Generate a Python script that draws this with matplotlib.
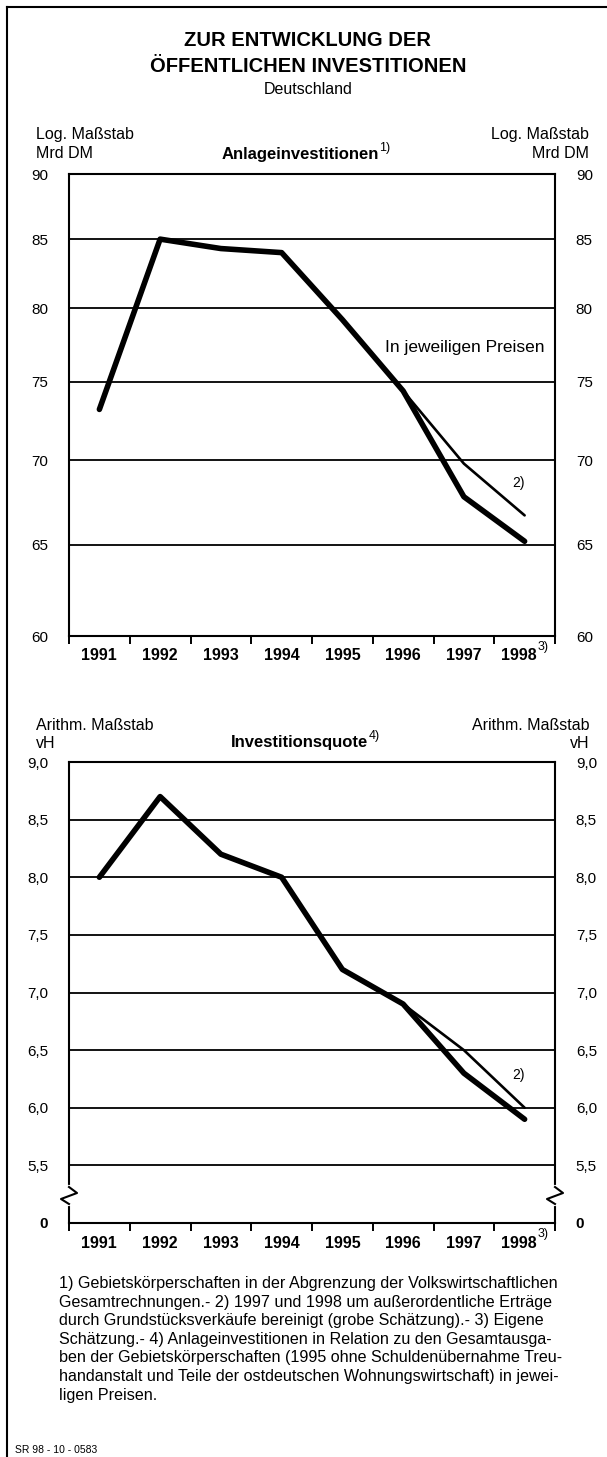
import matplotlib
matplotlib.use("Agg")
import matplotlib.pyplot as plt
from matplotlib.lines import Line2D
from matplotlib.ticker import NullLocator, FixedLocator
from matplotlib.transforms import ScaledTranslation

plt.rcParams['font.family'] = ['Liberation Sans', 'DejaVu Sans']

# ---------------- data ----------------
years = ["1991", "1992", "1993", "1994", "1995", "1996", "1997", "1998"]
invest = [73.2, 85.0, 84.3, 84.0, 79.2, 74.4, 67.8, 65.2]          # Mrd DM, thick
invest_adj_years = ["1996", "1997", "1998"]
invest_adj = [74.4, 69.8, 66.7]                                      # adjusted 2)
quote = [8.0, 8.7, 8.2, 8.0, 7.2, 6.9, 6.3, 5.9]                    # vH, thick
quote_adj_years = ["1996", "1997", "1998"]
quote_adj = [6.9, 6.5, 6.0]                                          # adjusted 2)
top_ticks = [60, 65, 70, 75, 80, 85, 90]
top_ticklabels = ["60", "65", "70", "75", "80", "85", "90"]
bot_ticks = [5.0, 5.5, 6.0, 6.5, 7.0, 7.5, 8.0, 8.5, 9.0]
bot_ticklabels = ["0", "5,5", "6,0", "6,5", "7,0", "7,5", "8,0", "8,5", "9,0"]

W, H = 607, 1457
fig = plt.figure(figsize=(W / 100, H / 100), dpi=100)


def fx(x):
    return x / W


def fy(y):
    return 1 - y / H


def ax_rect(left, top, right, bottom):
    return [fx(left), fy(bottom), (right - left) / W, (bottom - top) / H]


def style_axes(ax, ticks, ticklabels):
    n = len(years)
    xs = list(range(n))
    ax.set_xlim(-0.5, n - 0.5)
    ax.set_xticks(xs)
    ax.set_xticklabels(years, fontsize=11.5, fontweight='bold')
    ax.xaxis.set_minor_locator(FixedLocator([i - 0.5 for i in range(n + 1)]))
    ax.tick_params(axis='x', which='major', length=0, pad=9)
    ax.tick_params(axis='x', which='minor', length=6, width=1.4, direction='out')
    ax.set_yticks(ticks)
    ax.set_yticklabels(ticklabels)
    ax.yaxis.set_minor_locator(NullLocator())
    ax.tick_params(axis='y', which='both', left=False, right=False,
                   labelleft=True, labelright=True, labelsize=11, pad=11.5)
    for s in ax.spines.values():
        s.set_linewidth(1.5)
        s.set_color('black')
    for t in ticks[1:-1]:
        ax.axhline(t, color='black', lw=1.3, zorder=1)
    # shift last year label left to make room for the "3)" superscript
    last = ax.get_xticklabels()[-1]
    last.set_transform(last.get_transform() +
                       ScaledTranslation(-6 / 100, 0, fig.dpi_scale_trans))


# ---------------- top chart ----------------
ax1 = fig.add_axes(ax_rect(69, 174, 555, 636))
ax1.set_yscale('log')
ax1.set_ylim(60, 90)
style_axes(ax1, top_ticks, top_ticklabels)
xi = list(range(len(years)))
ax1.plot(xi, invest, color='black', lw=4.0, solid_capstyle='round', zorder=3)
ax1.plot([years.index(y) for y in invest_adj_years], invest_adj, color='black',
         lw=1.9, solid_capstyle='round', zorder=3)
ax1.text(7.33, 77.3, "In jeweiligen Preisen", ha='right', va='center', fontsize=12.5)
ax1.text(6.9, 68.6, "2)", ha='center', va='center', fontsize=10)

# ---------------- bottom chart ----------------
ax2 = fig.add_axes(ax_rect(69, 762, 555, 1223))
ax2.set_ylim(5.0, 9.0)
style_axes(ax2, bot_ticks, bot_ticklabels)
for lab in ax2.get_yticklabels():
    if lab.get_text() == "0":
        lab.set_fontweight('bold')
ax2.plot(xi, quote, color='black', lw=4.0, solid_capstyle='round', zorder=3)
ax2.plot([years.index(y) for y in quote_adj_years], quote_adj, color='black',
         lw=1.9, solid_capstyle='round', zorder=3)
ax2.text(6.9, 6.28, "2)", ha='center', va='center', fontsize=10)

# axis break zigzags
for x0 in (69, 555):
    fig.add_artist(Line2D([fx(x0), fx(x0)], [fy(1187), fy(1204)], color='white',
                          lw=3, zorder=10))
    fig.add_artist(Line2D([fx(x0), fx(x0 + 8), fx(x0 - 8), fx(x0)],
                          [fy(1187), fy(1193), fy(1199), fy(1204)],
                          color='black', lw=1.5, zorder=11))

# ---------------- texts ----------------
def ftext(x, y, s, **kw):
    return fig.text(fx(x), fy(y), s, **kw)


ftext(308, 41, "ZUR ENTWICKLUNG DER", ha='center', va='center', fontsize=14.5,
      fontweight='bold')
ftext(308, 66, "ÖFFENTLICHEN INVESTITIONEN", ha='center', va='center', fontsize=14.5,
      fontweight='bold')
ftext(308, 89, "Deutschland", ha='center', va='center', fontsize=11.5)

# top header
ftext(36, 135, "Log. Maßstab", ha='left', va='center', fontsize=11.5)
ftext(36, 154, "Mrd DM", ha='left', va='center', fontsize=11.5)
ftext(589, 135, "Log. Maßstab", ha='right', va='center', fontsize=11.5)
ftext(589, 154, "Mrd DM", ha='right', va='center', fontsize=11.5)
t1 = ftext(300, 155, "Anlageinvestitionen", ha='center', va='center', fontsize=12,
           fontweight='bold')
ax1.annotate("1)", xy=(1.0, 0.55), xycoords=t1, ha='left', va='bottom', fontsize=9)

# bottom header
ftext(36, 725, "Arithm. Maßstab", ha='left', va='center', fontsize=11.5)
ftext(36, 743, "vH", ha='left', va='center', fontsize=11.5)
ftext(589, 725, "Arithm. Maßstab", ha='right', va='center', fontsize=11.5)
ftext(589, 743, "vH", ha='right', va='center', fontsize=11.5)
t2 = ftext(300, 743, "Investitionsquote", ha='center', va='center', fontsize=12,
           fontweight='bold')
ax2.annotate("4)", xy=(1.0, 0.55), xycoords=t2, ha='left', va='bottom', fontsize=9)

# 3) superscripts next to 1998
ftext(538, 647, "3)", ha='left', va='center', fontsize=9)
ftext(538, 1234, "3)", ha='left', va='center', fontsize=9)

footnote = ("1) Gebietskörperschaften in der Abgrenzung der Volkswirtschaftlichen\n"
            "Gesamtrechnungen.- 2) 1997 und 1998 um außerordentliche Erträge\n"
            "durch Grundstücksverkäufe bereinigt (grobe Schätzung).- 3) Eigene\n"
            "Schätzung.- 4) Anlageinvestitionen in Relation zu den Gesamtausga-\n"
            "ben der Gebietskörperschaften (1995 ohne Schuldenübernahme Treu-\n"
            "handanstalt und Teile der ostdeutschen Wohnungswirtschaft) in jewei-\n"
            "ligen Preisen.")
ftext(59, 1276, footnote, ha='left', va='top', fontsize=11.6, linespacing=1.3)
ftext(15, 1450, "SR 98 - 10 - 0583", ha='left', va='center', fontsize=7.5)

# frame (top and left)
fig.add_artist(Line2D([fx(7), fx(7)], [fy(7), fy(1457)], color='black', lw=1.5))
fig.add_artist(Line2D([fx(7), fx(607)], [fy(7), fy(7)], color='black', lw=1.5))

fig.savefig("out.png", dpi=100)
